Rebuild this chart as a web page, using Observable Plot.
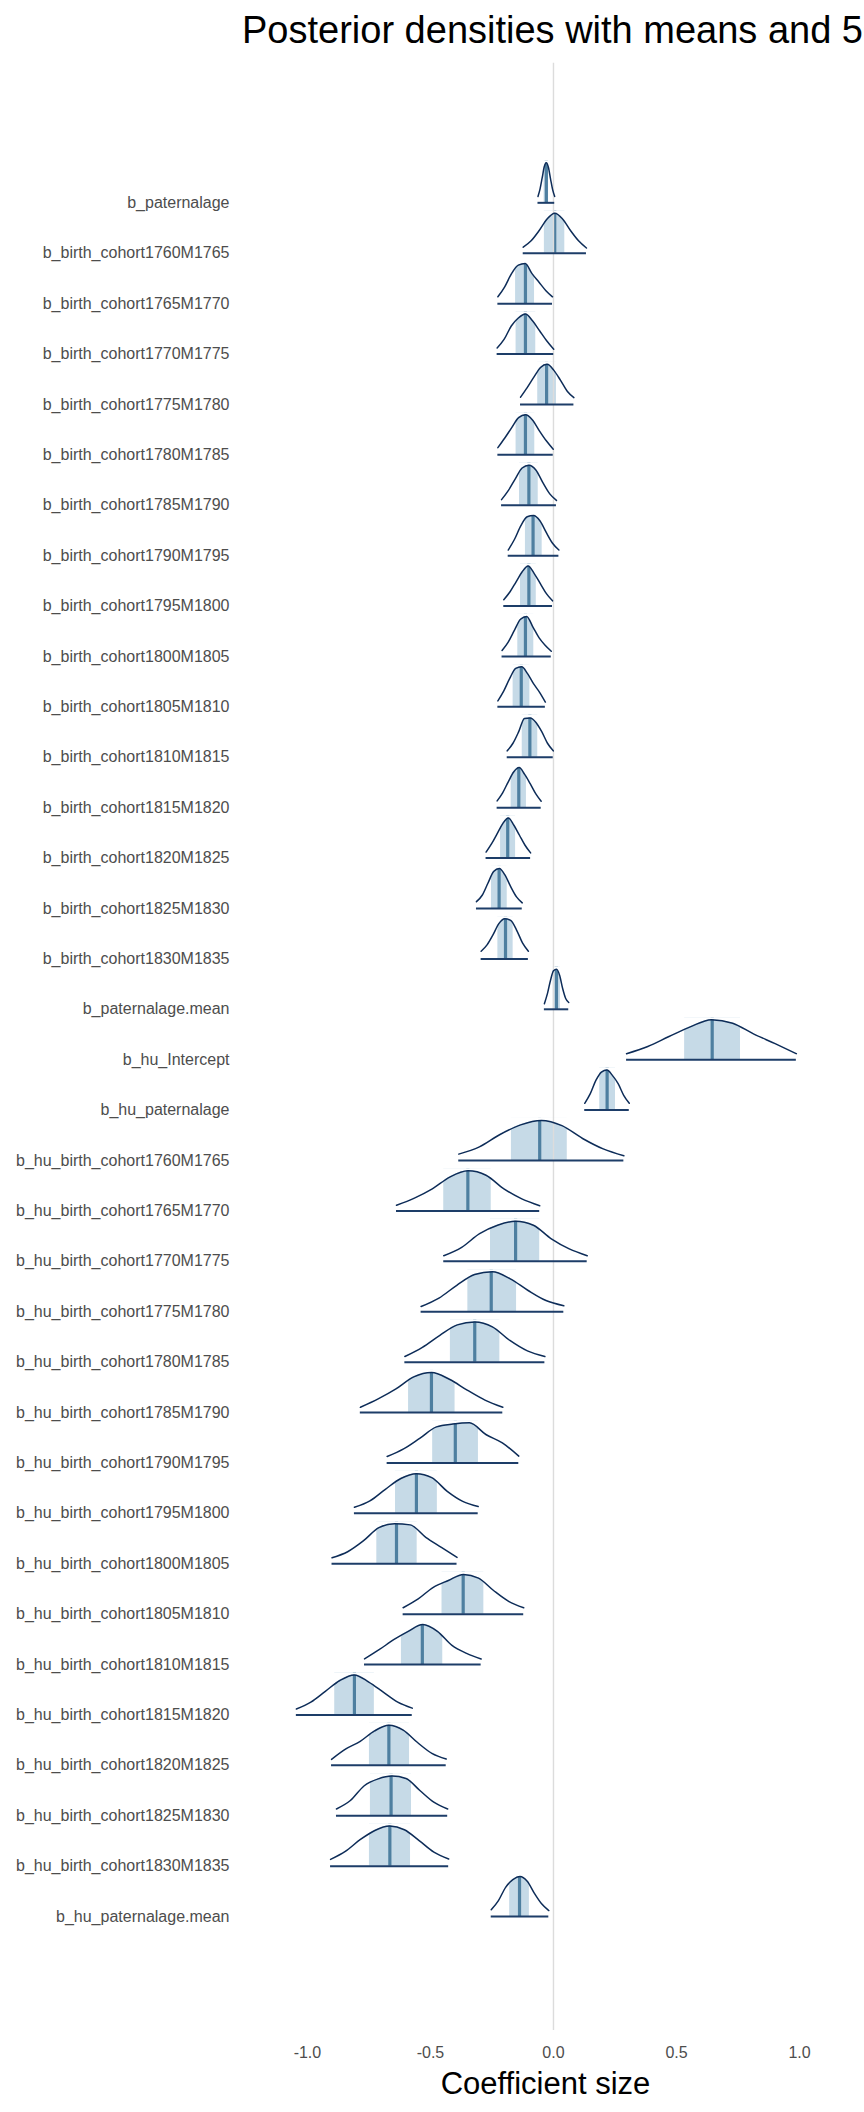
<!DOCTYPE html>
<html>
<head>
<meta charset="utf-8">
<script src="https://cdn.jsdelivr.net/npm/d3@7"></script>
<script src="https://cdn.jsdelivr.net/npm/@observablehq/plot@0.6"></script>
<style>
  html, body { margin: 0; padding: 0; background: #fff; overflow: hidden; width: 864px; height: 2112px; }
  #wrap { position: relative; width: 864px; height: 2112px; overflow: hidden; }
  #title { position: absolute; left: 242px; top: 11px; font-family: "Liberation Sans", Arial, Helvetica, sans-serif;
           font-size: 38px; line-height: 38px; color: #000; white-space: nowrap; z-index: 2; }
  #chart { position: absolute; left: 0; top: 0; }
</style>
</head>
<body>
<div id="wrap">
  <div id="chart"></div>
  <div id="title">Posterior densities with means and 50% intervals</div>
</div>
<script>
// ---- data ----
const params = [
  "b_paternalage",
  "b_birth_cohort1760M1765","b_birth_cohort1765M1770","b_birth_cohort1770M1775","b_birth_cohort1775M1780",
  "b_birth_cohort1780M1785","b_birth_cohort1785M1790","b_birth_cohort1790M1795","b_birth_cohort1795M1800",
  "b_birth_cohort1800M1805","b_birth_cohort1805M1810","b_birth_cohort1810M1815","b_birth_cohort1815M1820",
  "b_birth_cohort1820M1825","b_birth_cohort1825M1830","b_birth_cohort1830M1835",
  "b_paternalage.mean","b_hu_Intercept","b_hu_paternalage",
  "b_hu_birth_cohort1760M1765","b_hu_birth_cohort1765M1770","b_hu_birth_cohort1770M1775","b_hu_birth_cohort1775M1780",
  "b_hu_birth_cohort1780M1785","b_hu_birth_cohort1785M1790","b_hu_birth_cohort1790M1795","b_hu_birth_cohort1795M1800",
  "b_hu_birth_cohort1800M1805","b_hu_birth_cohort1805M1810","b_hu_birth_cohort1810M1815","b_hu_birth_cohort1815M1820",
  "b_hu_birth_cohort1820M1825","b_hu_birth_cohort1825M1830","b_hu_birth_cohort1830M1835",
  "b_hu_paternalage.mean"
];
// posterior means
const means = [-0.029, 0.005,-0.114,-0.114,-0.028,-0.114,-0.100,-0.083,-0.100,-0.114,-0.131,-0.096,-0.141,-0.186,-0.221,-0.195,
  0.012, 0.645, 0.218,
  -0.056,-0.348,-0.154,-0.253,-0.320,-0.496,-0.399,-0.557,-0.638,-0.367,-0.533,-0.809,-0.669,-0.660,-0.665,
  -0.138];
// inner (50%) interval
const innerLow = [-0.038,-0.037,-0.154,-0.152,-0.064,-0.152,-0.138,-0.114,-0.134,-0.145,-0.164,-0.127,-0.172,-0.215,-0.252,-0.226,
  -0.001, 0.533, 0.188,
  -0.171,-0.446,-0.256,-0.348,-0.419,-0.589,-0.491,-0.642,-0.718,-0.453,-0.618,-0.889,-0.748,-0.744,-0.748,
  -0.178];
const innerHigh = [-0.020, 0.046,-0.077,-0.072, 0.012,-0.076,-0.062,-0.046,-0.070,-0.080,-0.096,-0.064,-0.110,-0.154,-0.188,-0.164,
  0.028, 0.760, 0.252,
  0.056,-0.253,-0.056,-0.150,-0.218,-0.400,-0.305,-0.472,-0.554,-0.283,-0.450,-0.728,-0.585,-0.577,-0.581,
  -0.098];
// outer interval (ends of each density)
const outerLow = [-0.063,-0.123,-0.226,-0.229,-0.134,-0.226,-0.211,-0.184,-0.202,-0.209,-0.226,-0.188,-0.229,-0.274,-0.313,-0.294,
  -0.037, 0.297, 0.127,
  -0.385,-0.638,-0.446,-0.538,-0.604,-0.785,-0.676,-0.809,-0.900,-0.611,-0.768,-1.045,-0.902,-0.882,-0.906,
  -0.253];
const outerHigh = [0.005, 0.134,-0.004, 0.001, 0.083,-0.001, 0.012, 0.022,-0.004,-0.009,-0.033,-0.001,-0.050,-0.093,-0.127,-0.102,
  0.062, 0.987, 0.308,
  0.286,-0.056, 0.137, 0.042,-0.035,-0.206,-0.141,-0.306,-0.392,-0.121,-0.294,-0.574,-0.436,-0.430,-0.426,
  -0.019];
// relative density heights at 9 evenly spaced points from outerLow to outerHigh
const dens = [
  [0.16,0.35,0.62,0.90,1.00,0.88,0.60,0.33,0.16],
  [0.15,0.31,0.56,0.85,1.00,0.85,0.56,0.31,0.13],
  [0.17,0.42,0.75,0.96,1.00,0.75,0.54,0.33,0.17],
  [0.15,0.37,0.70,0.90,1.00,0.83,0.58,0.33,0.12],
  [0.18,0.42,0.68,0.92,1.00,0.85,0.60,0.33,0.17],
  [0.18,0.42,0.68,0.93,1.00,0.87,0.60,0.35,0.14],
  [0.14,0.37,0.66,0.93,1.00,0.88,0.57,0.29,0.12],
  [0.14,0.41,0.75,0.97,1.00,0.87,0.58,0.31,0.14],
  [0.16,0.35,0.60,0.85,1.00,0.81,0.56,0.31,0.13],
  [0.15,0.36,0.65,0.93,1.00,0.74,0.47,0.28,0.13],
  [0.15,0.40,0.71,0.96,1.00,0.83,0.58,0.37,0.12],
  [0.16,0.35,0.64,0.97,0.98,0.87,0.64,0.35,0.16],
  [0.17,0.37,0.64,0.89,1.00,0.83,0.60,0.35,0.16],
  [0.15,0.36,0.61,0.86,1.00,0.82,0.57,0.32,0.13],
  [0.17,0.33,0.63,0.92,1.00,0.83,0.54,0.29,0.14],
  [0.19,0.35,0.60,0.88,1.00,0.96,0.72,0.40,0.19],
  [0.14,0.39,0.72,0.96,1.00,0.85,0.52,0.27,0.17],
  [0.15,0.33,0.58,0.82,1.00,0.91,0.64,0.40,0.15],
  [0.17,0.41,0.74,0.95,1.00,0.86,0.66,0.37,0.17],
  [0.16,0.34,0.65,0.89,1.00,0.87,0.55,0.29,0.12],
  [0.14,0.32,0.55,0.85,1.00,0.89,0.55,0.30,0.13],
  [0.14,0.35,0.69,0.90,1.00,0.90,0.56,0.31,0.14],
  [0.13,0.34,0.66,0.93,1.00,0.82,0.53,0.28,0.15],
  [0.14,0.37,0.67,0.93,1.00,0.88,0.54,0.28,0.14],
  [0.13,0.34,0.59,0.89,1.00,0.83,0.56,0.31,0.13],
  [0.16,0.35,0.62,0.90,0.97,1.00,0.71,0.50,0.17],
  [0.15,0.31,0.60,0.87,0.99,0.89,0.55,0.30,0.17],
  [0.15,0.30,0.57,0.90,1.00,0.97,0.66,0.41,0.16],
  [0.16,0.38,0.67,0.84,0.99,0.90,0.59,0.32,0.16],
  [0.14,0.37,0.62,0.83,1.00,0.83,0.48,0.28,0.14],
  [0.15,0.32,0.59,0.86,1.00,0.82,0.57,0.32,0.17],
  [0.15,0.41,0.60,0.86,1.00,0.88,0.57,0.30,0.16],
  [0.17,0.38,0.75,0.92,0.99,0.93,0.63,0.34,0.17],
  [0.17,0.37,0.66,0.89,1.00,0.91,0.64,0.35,0.18],
  [0.17,0.40,0.73,0.92,1.00,0.88,0.58,0.32,0.15]
];
const xTicks = [-1, -0.5, 0, 0.5, 1];
const xTitle = "Coefficient size";

// ---- build tables ----
const K = 0.795;          // peak height as a fraction of the row step
const TOP = 1.05;         // mask top (relative density units)
const rows = params.map((p, i) => ({
  p, i, mean: means[i], q1: innerLow[i], q3: innerHigh[i], lo: outerLow[i], hi: outerHigh[i]
}));
const samples = params.flatMap((p, i) => dens[i].map((d, j, arr) => ({
  p, i, x: outerLow[i] + (outerHigh[i] - outerLow[i]) * j / (arr.length - 1), d
})));

const navy = "#0d2c58";
const bandFill = "#c6dae7";
const meanColor = "#4e7fa0";

const chart = Plot.plot({
  width: 864,
  height: 2112,
  marginTop: 62.7,
  marginBottom: 82,
  marginLeft: 240,
  marginRight: 0,
  style: { fontFamily: "'Liberation Sans', Arial, Helvetica, sans-serif", color: "#4d4d4d", background: "#fff" },
  x: { domain: [-1.272, 1.264] },
  y: { domain: [36.26, -2.77] },
  marks: [
    // inner interval band
    Plot.rect(rows, { x1: "q1", x2: "q3", y1: d => d.i, y2: d => d.i - K * TOP, fill: bandFill }),
    // mean line
    Plot.ruleX(rows, { x: "mean", y1: d => d.i, y2: d => d.i - K * TOP, stroke: meanColor, strokeWidth: 3.2 }),
    // white cover above the density curve
    Plot.areaY(samples, { x: "x", y1: d => d.i - K * d.d, y2: d => d.i - K * TOP, z: "p", fill: "#fff", curve: "monotone-x" }),
    // zero reference line
    Plot.ruleX([0], { stroke: "#dcdcdc", strokeWidth: 1.4 }),
    // density outline
    Plot.line(samples, { x: "x", y: d => d.i - K * d.d, z: "p", stroke: navy, strokeWidth: 1.5, curve: "monotone-x" }),
    // baseline segment
    Plot.ruleY(rows, { y: "i", x1: "lo", x2: "hi", stroke: "#1d3d68", strokeWidth: 2 }),
    // axes
    Plot.axisY(rows.map(r => r.i), { tickSize: 0, tickPadding: 11, tickFormat: i => params[i], fontSize: 16, label: null }),
    Plot.axisX(xTicks, { tickSize: 0, tickPadding: 16, tickFormat: v => v.toFixed(1), fontSize: 16, label: null }),
    Plot.text([xTitle], { frameAnchor: "bottom", dy: 63, dx: -7, fontSize: 31, fill: "#000" })
  ]
});
document.getElementById("chart").appendChild(chart);
</script>
</body>
</html>
